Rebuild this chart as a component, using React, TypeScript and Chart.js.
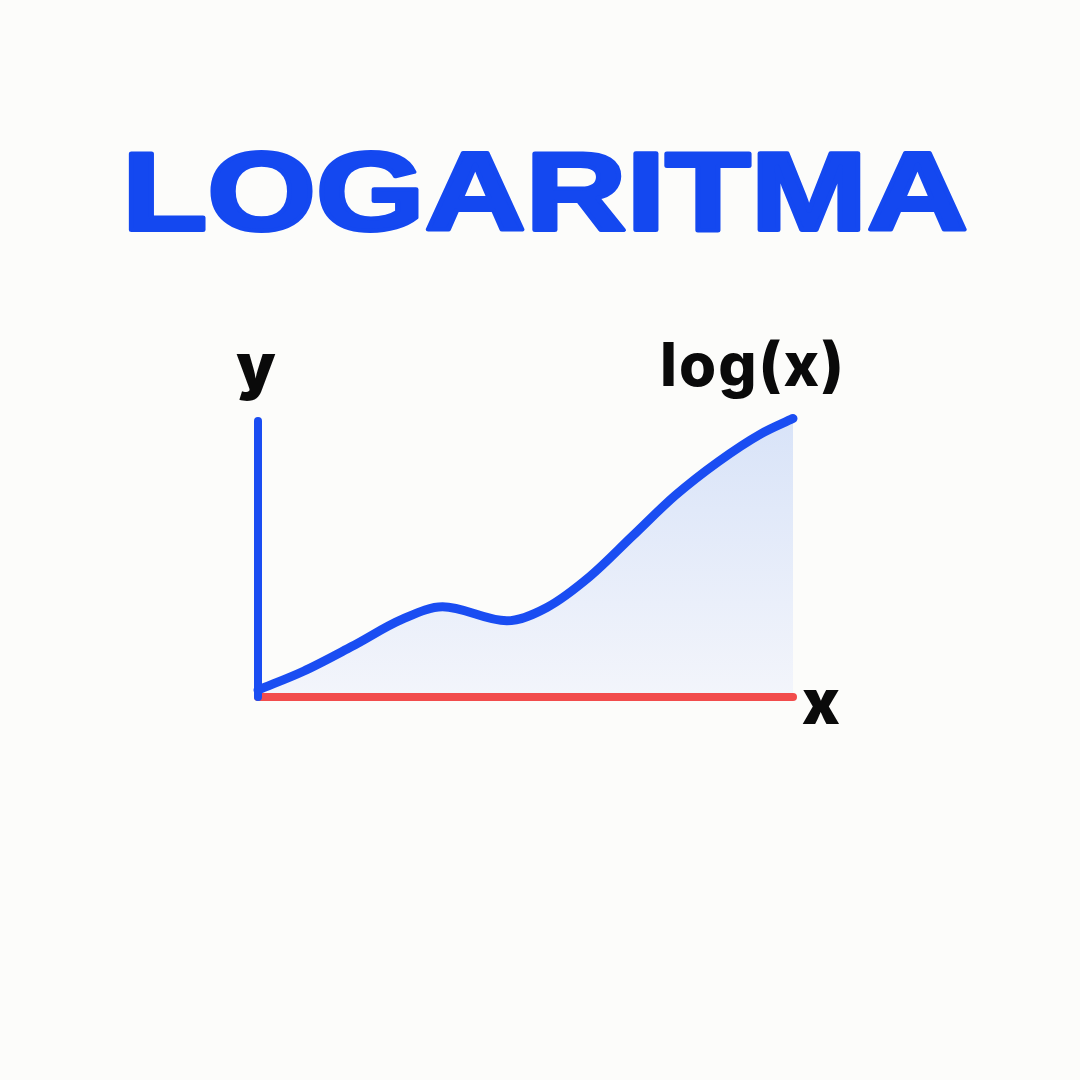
import React, { useEffect, useRef } from "react";
import { Chart, registerables } from "chart.js";

Chart.register(...registerables);

const titleText = "LOGARITMA";
const yAxisLabel = "y";
const xAxisLabel = "x";
const curveLabel = "log(x)";

const xValues = [0, 0.85, 1.75, 2.7, 3.45, 4.65, 5.4, 6.2, 7.0, 7.8, 8.6, 9.4, 10];
const yValues = [0.25, 0.92, 1.8, 2.78, 3.22, 2.72, 3.2, 4.3, 5.75, 7.2, 8.4, 9.4, 9.95];

const xMin = 0;
const xMax = 10;
const yMin = 0;
const yMax = 10;

const BLUE = "#1448f0";
const CURVE = "#1a4df2";
const RED = "#f24c4c";
const BG = "#fcfcfa";

const decorPlugin = {
  id: "decor",
  beforeDraw(chart: any) {
    const ctx = chart.ctx;
    ctx.save();
    ctx.fillStyle = BG;
    ctx.fillRect(0, 0, chart.width, chart.height);
    ctx.restore();
  },
  afterDatasetsDraw(chart: any) {
    const ctx = chart.ctx;
    const xs = chart.scales.x;
    const ys = chart.scales.y;
    const x0 = xs.getPixelForValue(xMin);
    const x1 = xs.getPixelForValue(xMax);
    const y0 = ys.getPixelForValue(yMin);
    const y1 = ys.getPixelForValue(yMax);
    ctx.save();
    ctx.lineCap = "round";
    ctx.lineWidth = 8;
    ctx.strokeStyle = RED;
    ctx.beginPath();
    ctx.moveTo(x0, y0);
    ctx.lineTo(x1, y0);
    ctx.stroke();
    ctx.strokeStyle = CURVE;
    ctx.lineWidth = 8;
    ctx.beginPath();
    ctx.moveTo(x0, y0);
    ctx.lineTo(x0, y1 + 4);
    ctx.stroke();
    ctx.restore();
  },
  afterDraw(chart: any) {
    const ctx = chart.ctx;
    const area = chart.chartArea;
    ctx.save();
    ctx.fillStyle = BLUE;
    ctx.strokeStyle = BLUE;
    ctx.lineWidth = 4;
    ctx.lineJoin = "round";
    ctx.font = "bold 112px 'Liberation Sans', Arial, sans-serif";
    ctx.textBaseline = "alphabetic";
    ctx.textAlign = "left";
    const w = ctx.measureText(titleText).width;
    const targetW = 846;
    const cx = 545;
    ctx.save();
    ctx.translate(cx - targetW / 2, 230);
    ctx.scale(targetW / w, 1);
    ctx.fillText(titleText, 0, 0);
    ctx.strokeText(titleText, 0, 0);
    ctx.restore();

    ctx.fillStyle = "#0a0a0a";
    ctx.font = "900 62px Inter, 'Noto Sans', sans-serif";
    ctx.textAlign = "center";
    ctx.fillText(yAxisLabel, area.left - 2, area.top - 29);
    ctx.fillText(xAxisLabel, area.right + 28, area.bottom + 27);

    ctx.font = "800 60px Inter, 'Noto Sans', sans-serif";
    ctx.textAlign = "left";
    (ctx as any).letterSpacing = "2px";
    ctx.fillText(curveLabel, area.right - 133, area.top - 31);
    ctx.restore();
  },
};

export default function App() {
  const ref = useRef<HTMLCanvasElement | null>(null);

  useEffect(() => {
    if (!ref.current) return;
    const chart = new Chart(ref.current, {
      type: "line",
      data: {
        datasets: [
          {
            label: curveLabel,
            data: xValues.map((x, i) => ({ x, y: yValues[i] })),
            borderColor: CURVE,
            borderWidth: 9,
            borderCapStyle: "round",
            borderJoinStyle: "round",
            pointRadius: 0,
            cubicInterpolationMode: "monotone",
            fill: "origin",
            clip: false as any,
            backgroundColor: (context: any) => {
              const { chart } = context;
              const { ctx, chartArea } = chart;
              if (!chartArea) return "rgba(220,230,248,1)";
              const g = ctx.createLinearGradient(0, chartArea.top, 0, chartArea.bottom);
              g.addColorStop(0, "rgba(216,227,248,1)");
              g.addColorStop(1, "rgba(243,245,251,1)");
              return g;
            },
          },
        ],
      },
      options: {
        animation: false,
        responsive: false,
        maintainAspectRatio: false,
        layout: { padding: { left: 258, right: 287, top: 417, bottom: 383 } },
        plugins: {
          legend: { display: false },
          title: { display: false },
          tooltip: { enabled: false },
        },
        scales: {
          x: { type: "linear", min: xMin, max: xMax, display: false },
          y: { type: "linear", min: yMin, max: yMax, display: false },
        },
      },
      plugins: [decorPlugin],
    });
    return () => chart.destroy();
  }, []);

  return (
    <div style={{ position: "fixed", left: 0, top: 0, width: 1080, height: 1080, background: BG }}>
      <canvas ref={ref} width={1080} height={1080} style={{ display: "block", width: 1080, height: 1080 }} />
    </div>
  );
}
